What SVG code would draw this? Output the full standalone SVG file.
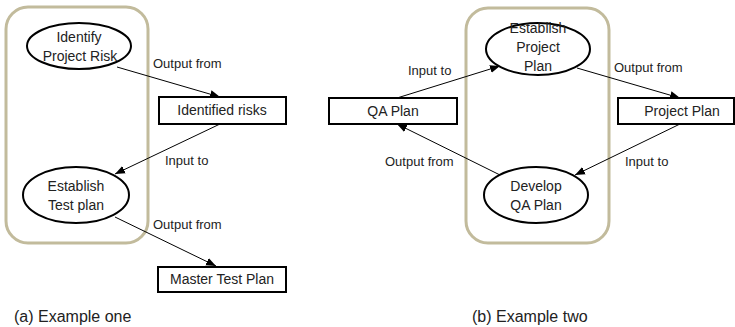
<svg xmlns="http://www.w3.org/2000/svg" width="735" height="327" viewBox="0 0 735 327">
<defs>
<marker id="ah" viewBox="0 0 10 10" refX="10" refY="5" markerWidth="10" markerHeight="10" markerUnits="userSpaceOnUse" orient="auto">
<path d="M0,1 L10,5 L0,9 z" fill="#000"/>
</marker>
<style>
.cont{fill:none;stroke:#C2BB9C;stroke-width:3}
.ell{fill:#fff;stroke:#000;stroke-width:2}
.box{fill:#fff;stroke:#000;stroke-width:2}
.t{font-family:"Liberation Sans",Arial,sans-serif;font-size:14px;fill:#222;text-anchor:middle}
.lbl{font-family:"Liberation Sans",Arial,sans-serif;font-size:13px;fill:#222}
.cap{font-family:"Liberation Sans",Arial,sans-serif;font-size:16px;fill:#222}
.con{stroke:#000;stroke-width:1;fill:none;marker-end:url(#ah)}
</style>
</defs>
<rect fill="#fff" width="735" height="327"/>
<rect id="containerA" class="cont" x="6" y="7" width="142" height="236" rx="22"/>
<rect id="containerB" class="cont" x="466" y="8" width="143" height="235" rx="22"/>
<g id="connectors">
<line class="con" x1="117" y1="67" x2="220" y2="97"/>
<line class="con" x1="220" y1="124" x2="115" y2="174"/>
<line class="con" x1="115" y1="217" x2="216" y2="266"/>
<line class="con" x1="397" y1="98" x2="500" y2="66"/>
<line class="con" x1="577" y1="68" x2="680" y2="98"/>
<line class="con" x1="680" y1="124" x2="575" y2="175"/>
<line class="con" x1="500" y1="175" x2="397" y2="124"/>
</g>
<g id="labels">
<text class="lbl" x="153" y="68">Output from</text>
<text class="lbl" x="165" y="165">Input to</text>
<text class="lbl" x="153" y="229">Output from</text>
<text class="lbl" x="408" y="75">Input to</text>
<text class="lbl" x="614" y="72">Output from</text>
<text class="lbl" x="625" y="166">Input to</text>
<text class="lbl" x="385" y="166">Output from</text>
</g>
<g id="identifyRisk">
<ellipse class="ell" cx="79" cy="46" rx="52" ry="23"/>
<text class="t" x="79" y="42">Identify</text>
<text class="t" x="80" y="61">Project Risk</text>
</g>
<g id="identifiedRisks">
<rect class="box" x="159" y="97" width="127" height="27"/>
<text class="t" x="222" y="115" font-size="13">Identified risks</text>
</g>
<g id="establishTestPlan">
<ellipse class="ell" cx="76" cy="195" rx="53" ry="28"/>
<text class="t" x="76" y="191">Establish</text>
<text class="t" x="76" y="210">Test plan</text>
</g>
<g id="masterTestPlan">
<rect class="box" x="158" y="267" width="128" height="25"/>
<text class="t" x="222" y="284" font-size="13">Master Test Plan</text>
</g>
<g id="establishProjectPlan">
<ellipse class="ell" cx="538" cy="49" rx="52" ry="26"/>
<text class="t" x="538" y="33">Establish</text>
<text class="t" x="538" y="52">Project</text>
<text class="t" x="538" y="71">Plan</text>
</g>
<g id="qaPlan">
<rect class="box" x="329" y="98" width="128" height="26"/>
<text class="t" x="393" y="116" font-size="13">QA Plan</text>
</g>
<g id="projectPlan">
<rect class="box" x="618" y="98" width="116" height="26"/>
<text class="t" x="682" y="116" font-size="13">Project Plan</text>
</g>
<g id="developQAPlan">
<ellipse class="ell" cx="536" cy="195" rx="52" ry="28"/>
<text class="t" x="536" y="191">Develop</text>
<text class="t" x="536" y="210">QA Plan</text>
</g>
<text class="cap" x="14" y="322">(a) Example one</text>
<text class="cap" x="472" y="322">(b) Example two</text>
</svg>
